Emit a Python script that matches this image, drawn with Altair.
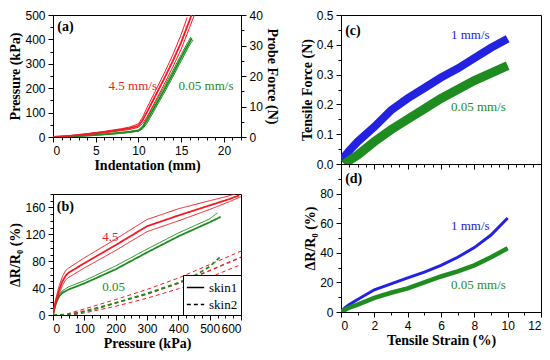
import json
import altair as alt
import pandas as pd

RED = "#ee1c24"
GREEN = "#1e8c1e"
BLUE = "#2222e0"
SERIF = "Liberation Serif"
SANS = "Liberation Sans"

# ---------------- Panel (a): pressure vs indentation ----------------
a_red_c_x = [0, 2, 4, 6, 8, 9, 10, 10.5, 11, 12, 13, 14, 15, 16, 16.3]
a_red_c_y = [0, 5, 12, 20, 30, 36, 46, 70, 102, 170, 238, 310, 388, 480, 510]
a_red_l_x = [0, 2, 4, 6, 8, 9, 10, 10.5, 11, 12, 13, 14, 15, 15.7]
a_red_l_y = [0, 6, 14, 23, 34, 41, 54, 82, 120, 190, 260, 335, 420, 490]
a_red_r_x = [0, 2, 4, 6, 8, 9, 10, 10.5, 11, 12, 13, 14, 15, 16, 16.6]
a_red_r_y = [0, 4, 10, 17, 26, 31, 40, 56, 82, 148, 215, 285, 360, 450, 505]
a_grn_c_x = [0, 2, 4, 6, 8, 9, 10, 10.3, 10.6, 11, 12, 13, 14, 15, 16, 16.25]
a_grn_c_y = [0, 2, 6, 11, 17, 21, 26, 33, 45, 68, 130, 192, 258, 325, 390, 405]
a_grn_l_x = [0, 2, 4, 6, 8, 9, 10, 10.5, 11, 12, 13, 14, 15, 16, 16.15]
a_grn_l_y = [0, 3, 7, 12, 19, 23, 29, 45, 78, 142, 205, 270, 338, 402, 410]
a_grn_r_x = [0, 2, 4, 6, 8, 9, 10, 10.5, 11, 12, 13, 14, 15, 16, 16.4]
a_grn_r_y = [0, 1, 5, 10, 15, 19, 24, 34, 56, 118, 180, 245, 312, 378, 398]

a_text_x = [6.5, 14.7]
a_text_y = [210, 210]
a_text = ["4.5 mm/s", "0.05 mm/s"]

# ---------------- Panel (b): dR/R0 vs pressure ----------------
b_red_c_x = [0, 5, 10, 20, 30, 40, 50, 100, 200, 300, 400, 500, 560, 595]
b_red_c_y = [0, 12, 22, 38, 50, 58, 63, 77, 104, 132, 148, 163, 172, 178]
b_red_u_x = [0, 5, 10, 20, 30, 40, 50, 100, 200, 300, 400, 500, 560, 600]
b_red_u_y = [0, 15, 26, 44, 57, 66, 70, 85, 113, 142, 158, 170, 177, 183]
b_red_l_x = [0, 5, 10, 20, 30, 40, 50, 100, 200, 300, 400, 500, 560, 600]
b_red_l_y = [0, 9, 18, 32, 44, 52, 56, 70, 96, 124, 140, 157, 168, 176]
b_grn_c_x = [0, 5, 10, 20, 30, 50, 100, 200, 300, 400, 500, 535]
b_grn_c_y = [0, 10, 18, 28, 33, 38, 47, 68, 93, 117, 138, 146]
b_grn_u_x = [0, 5, 10, 20, 30, 50, 100, 200, 300, 400, 500, 525]
b_grn_u_y = [0, 12, 21, 31, 36, 42, 51, 73, 98, 122, 143, 152]
b_grn_d_x = [0, 50, 100, 150, 200, 250, 300, 350, 400, 450, 500, 535]
b_grn_d_y = [0, 0, 5, 11, 18, 25, 32, 40, 48, 58, 72, 87]
b_red_dc_x = [0, 50, 100, 200, 300, 400, 500, 600]
b_red_dc_y = [0, 1, 6, 18, 31, 47, 66, 86]
b_red_du_x = [0, 40, 100, 200, 300, 400, 500, 600]
b_red_du_y = [0, 1, 9, 23, 38, 55, 75, 95]
b_red_dl_x = [0, 60, 100, 200, 300, 400, 500, 600]
b_red_dl_y = [0, 0, 3, 13, 25, 39, 56, 75]

b_text_x = [157, 157]
b_text_y = [116, 42]
b_text = ["4.5", "0.05"]

# ---------------- Panel (c): tensile force vs strain ----------------
c_blue_x = [0, 0.5, 1, 2, 3, 4, 5, 6, 7, 8, 9, 10]
c_blue_y = [0.01, 0.045, 0.075, 0.125, 0.18, 0.22, 0.255, 0.29, 0.32, 0.355, 0.39, 0.42]
c_grn_x = [0.2, 0.5, 1, 2, 3, 4, 5, 6, 7, 8, 9, 10]
c_grn_y = [0.0, 0.012, 0.03, 0.075, 0.115, 0.15, 0.185, 0.22, 0.25, 0.28, 0.305, 0.33]
c_text_x = [6.6, 6.6]
c_text_y = [0.434, 0.19]
c_text = ["1 mm/s", "0.05 mm/s"]

# ---------------- Panel (d): dR/R0 vs strain ----------------
d_blue_x = [0, 0.25, 0.5, 1, 2, 3, 4, 5, 6, 7, 8, 9, 10]
d_blue_y = [0, 3, 5, 8.5, 15, 19, 23, 27, 31.5, 37, 43.5, 52, 63.5]
d_grn_x = [0, 0.25, 0.5, 1, 2, 3, 4, 5, 6, 7, 8, 9, 10]
d_grn_y = [0, 1.5, 3, 5, 9.5, 13, 16, 20, 24, 27.5, 31.5, 37, 43]
d_text_x = [6.6, 6.6]
d_text_y = [58, 18.5]
d_text = ["1 mm/s", "0.05 mm/s"]

panel_label_x = {"a": 0.5, "b": 12, "c": 0.25, "d": 0.25}
panel_label_y = {"a": 452, "b": 161, "c": 0.447, "d": 90}

# ---------------- tick values ----------------
a_x_major = [0, 5, 10, 15, 20]
a_x_minor = list(range(0, 23))
a_y_major = [0, 100, 200, 300, 400, 500]
a_y_minor = [0, 50, 100, 150, 200, 250, 300, 350, 400, 450, 500]
a_r_major = [0, 10, 20, 30, 40]
a_r_minor = [0, 5, 10, 15, 20, 25, 30, 35, 40]
b_x_major = [0, 100, 200, 300, 400, 500, 600]
b_x_minor = list(range(0, 601, 25))
b_y_major = [0, 40, 80, 120, 160]
b_y_minor = list(range(0, 181, 10))
s_x_major = [0, 2, 4, 6, 8, 10, 12]
s_x_minor = [0, 0.5, 1, 1.5, 2, 2.5, 3, 3.5, 4, 4.5, 5, 5.5, 6, 6.5, 7, 7.5, 8,
             8.5, 9, 9.5, 10, 10.5, 11, 11.5, 12]
c_y_major = [0, 0.1, 0.2, 0.3, 0.4, 0.5]
c_y_minor = [0, 0.05, 0.1, 0.15, 0.2, 0.25, 0.3, 0.35, 0.4, 0.45, 0.5]
d_y_major = [0, 20, 40, 60, 80]
d_y_minor = [0, 10, 20, 30, 40, 50, 60, 70, 80, 90]


def frame(series):
    rows = []
    for sid, spec in series.items():
        xs, ys = spec[0], spec[1]
        extra = spec[2] if len(spec) > 2 else None
        for xv, yv in zip(xs, ys):
            r = {"id": sid, "x": xv, "y": yv}
            if extra is not None:
                r["skin"] = extra
            rows.append(r)
    return pd.DataFrame(rows)


def axis(major, minor, title=None, labels=True, fmt=None, orient=None):
    vals = sorted(set(major) | set(minor))
    test = "indexof(" + json.dumps(major) + ", datum.value) >= 0"
    kw = dict(values=vals, title=title, labelOverlap=False, labelPadding=3,
              tickSize={"condition": {"test": test, "value": 5}, "value": 3})
    if labels:
        kw["labelExpr"] = test + " ? datum.label : ''"
    else:
        kw["labels"] = False
    if fmt:
        kw["format"] = fmt
    if orient:
        kw["orient"] = orient
    return alt.Axis(**kw)


def sc(dom):
    return alt.Scale(domain=dom, nice=False, zero=False)


def texts(xs, ys, ts, color, enc, bold=False):
    df = pd.DataFrame({"x": xs, "y": ys, "t": ts})
    return alt.Chart(df).mark_text(
        align="left", baseline="middle", font=SERIF, fontSize=14 if bold else 13,
        fontWeight="bold" if bold else "normal", color=color
    ).encode(text="t:N", **enc)


def line(base, sid, color, width):
    return base.transform_filter(alt.datum.id == sid).mark_line(
        color=color, strokeWidth=width, clip=True)


# ---------------- build panel (a) ----------------
df_a = frame({
    "red_l": (a_red_l_x, a_red_l_y), "red_r": (a_red_r_x, a_red_r_y),
    "red_c": (a_red_c_x, a_red_c_y), "grn_l": (a_grn_l_x, a_grn_l_y),
    "grn_r": (a_grn_r_x, a_grn_r_y), "grn_c": (a_grn_c_x, a_grn_c_y),
})
enc_a = dict(
    x=alt.X("x:Q", scale=sc([0, 22]), axis=axis(a_x_major, a_x_minor, "Indentation (mm)", fmt="d")),
    y=alt.Y("y:Q", scale=sc([0, 500]), axis=axis(a_y_major, a_y_minor, "Pressure (kPa)", fmt="d")),
)
base_a = alt.Chart(df_a).encode(**enc_a)
inner_a = alt.layer(
    line(base_a, "grn_l", GREEN, 1), line(base_a, "grn_r", GREEN, 1),
    line(base_a, "grn_c", GREEN, 1.8),
    line(base_a, "red_l", RED, 1), line(base_a, "red_r", RED, 1),
    line(base_a, "red_c", RED, 1.8),
    texts(a_text_x[:1], a_text_y[:1], a_text[:1], RED, enc_a),
    texts(a_text_x[1:], a_text_y[1:], a_text[1:], GREEN, enc_a),
    texts([panel_label_x["a"]], [panel_label_y["a"]], ["(a)"], "black", enc_a, bold=True),
)
right_a = alt.Chart(df_a).transform_filter(alt.datum.id == "red_c").transform_calculate(
    force="datum.y * 0.08").mark_line(opacity=0).encode(
    x=enc_a["x"],
    y=alt.Y("force:Q", scale=sc([0, 40]),
            axis=axis(a_r_major, a_r_minor, "Probe Force (N)", fmt="d", orient="right")),
)
panel_a = alt.layer(inner_a, right_a).resolve_scale(y="independent").properties(
    width=188, height=122)

# ---------------- build panel (b) ----------------
df_b = frame({
    "red_u": (b_red_u_x, b_red_u_y, "skin1"), "red_l": (b_red_l_x, b_red_l_y, "skin1"),
    "red_c": (b_red_c_x, b_red_c_y, "skin1"), "grn_u": (b_grn_u_x, b_grn_u_y, "skin1"),
    "grn_c": (b_grn_c_x, b_grn_c_y, "skin1"), "red_du": (b_red_du_x, b_red_du_y, "skin2"),
    "red_dl": (b_red_dl_x, b_red_dl_y, "skin2"), "red_dc": (b_red_dc_x, b_red_dc_y, "skin2"),
    "grn_d": (b_grn_d_x, b_grn_d_y, "skin2"),
})
enc_b = dict(
    x=alt.X("x:Q", scale=sc([0, 600]), axis=axis(b_x_major, b_x_minor, "Pressure (kPa)", fmt="d")),
    y=alt.Y("y:Q", scale=sc([0, 180]), axis=axis(b_y_major, b_y_minor, "ΔR/R₀ (%)", fmt="d")),
)
leg = alt.Legend(title=None, orient="bottom-right", offset=0, strokeColor="black",
                 fillColor="white", padding=3, labelFont=SERIF, labelFontSize=13,
                 labelColor="black", symbolType="stroke", symbolStrokeColor="black",
                 symbolStrokeWidth=1.5, symbolSize=300, rowPadding=0, labelOffset=4,
                 cornerRadius=0)
base_b = alt.Chart(df_b).encode(
    strokeDash=alt.StrokeDash("skin:N", scale=alt.Scale(domain=["skin1", "skin2"],
                                                        range=[[1, 0], [4, 3]]), legend=leg),
    **enc_b)
panel_b = alt.layer(
    line(base_b, "red_du", RED, 1), line(base_b, "red_dl", RED, 1),
    line(base_b, "red_dc", RED, 1.5), line(base_b, "grn_d", GREEN, 1.8),
    line(base_b, "grn_u", GREEN, 1), line(base_b, "grn_c", GREEN, 1.8),
    line(base_b, "red_u", RED, 1), line(base_b, "red_l", RED, 1),
    line(base_b, "red_c", RED, 1.8),
    texts(b_text_x[:1], b_text_y[:1], b_text[:1], RED, enc_b),
    texts(b_text_x[1:], b_text_y[1:], b_text[1:], GREEN, enc_b),
    texts([panel_label_x["b"]], [panel_label_y["b"]], ["(b)"], "black", enc_b, bold=True),
).properties(width=188, height=121)

# ---------------- build panel (c) ----------------
df_c = frame({"blue": (c_blue_x, c_blue_y), "grn": (c_grn_x, c_grn_y)})
enc_c = dict(
    x=alt.X("x:Q", scale=sc([0, 12]), axis=axis(s_x_major, s_x_minor, None, labels=False)),
    y=alt.Y("y:Q", scale=sc([0, 0.5]),
            axis=axis(c_y_major, c_y_minor, "Tensile Force (N)", fmt=".1f")),
)
base_c = alt.Chart(df_c).encode(**enc_c)
panel_c = alt.layer(
    line(base_c, "blue", BLUE, 8), line(base_c, "grn", GREEN, 9),
    texts(c_text_x[:1], c_text_y[:1], c_text[:1], BLUE, enc_c),
    texts(c_text_x[1:], c_text_y[1:], c_text[1:], GREEN, enc_c),
    texts([panel_label_x["c"]], [panel_label_y["c"]], ["(c)"], "black", enc_c, bold=True),
).properties(width=200, height=149)

# ---------------- build panel (d) ----------------
df_d = frame({"blue": (d_blue_x, d_blue_y), "grn": (d_grn_x, d_grn_y)})
enc_d = dict(
    x=alt.X("x:Q", scale=sc([0, 12]),
            axis=axis(s_x_major, s_x_minor, "Tensile Strain (%)", fmt="d")),
    y=alt.Y("y:Q", scale=sc([0, 100]), axis=axis(d_y_major, d_y_minor, "ΔR/R₀ (%)", fmt="d")),
)
base_d = alt.Chart(df_d).encode(**enc_d)
panel_d = alt.layer(
    line(base_d, "blue", BLUE, 3), line(base_d, "grn", GREEN, 4.5),
    texts(d_text_x[:1], d_text_y[:1], d_text[:1], BLUE, enc_d),
    texts(d_text_x[1:], d_text_y[1:], d_text[1:], GREEN, enc_d),
    texts([panel_label_x["d"]], [panel_label_y["d"]], ["(d)"], "black", enc_d, bold=True),
).properties(width=200, height=148)

left = alt.vconcat(panel_a, panel_b, spacing=14).resolve_scale(strokeDash="independent")
right = alt.vconcat(panel_c, panel_d, spacing=0, bounds="flush")
chart = alt.hconcat(left, right, spacing=20).resolve_scale(
    strokeDash="independent").properties(padding=0).configure_axis(
    labelFont=SANS, labelFontSize=12, labelColor="black",
    titleFont=SERIF, titleFontSize=14, titleFontWeight="bold", titleColor="black",
    titlePadding=2, domainColor="black", tickColor="black", grid=False,
).configure_view(stroke="black", strokeWidth=1).configure_legend(
    strokeColor="black")

chart.save("out.html", embed_options={"renderer": "svg", "actions": False})
